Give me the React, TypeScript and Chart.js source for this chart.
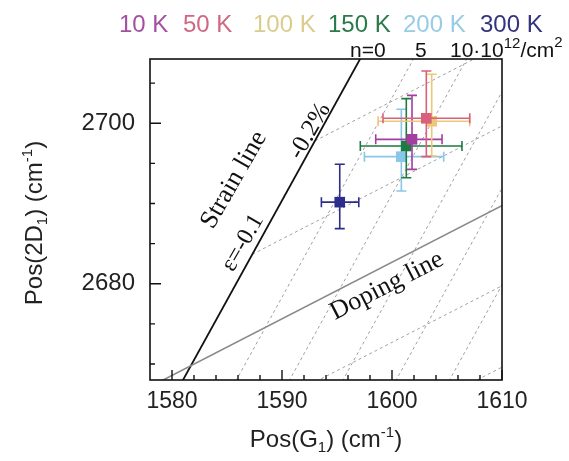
import React, { useEffect, useRef } from 'react';
import { Chart, registerables } from 'chart.js';

Chart.register(...registerables);

// ---------------- data ----------------
const temperatures = ['10 K', '50 K', '100 K', '150 K', '200 K', '300 K'];
const seriesColors = ['#a43d9f', '#d9607a', '#ebc777', '#1d7a40', '#88c6ea', '#2d2d8c'];
const legendColors = ['#a4509f', '#cf6880', '#d9cc8c', '#2a7a4a', '#98cbe6', '#33337f'];
const posG = [1601.82, 1603.12, 1603.61, 1601.3, 1600.85, 1595.25];
const pos2D = [2697.99, 2700.61, 2700.24, 2697.16, 2695.83, 2690.16];
const errGLow = [3.3, 3.94, 4.87, 4.18, 3.36, 1.67];
const errGHigh = [2.73, 3.95, 3.45, 5.06, 3.85, 1.73];
const err2DUp = [5.48, 5.9, 5.86, 5.9, 5.9, 4.72];
const err2DDown = [3.74, 4.78, 4.32, 3.95, 4.27, 3.3];
const layerOrder = [3, 1, 2, 4, 5, 6];

const xTickValues = [1580, 1582, 1584, 1586, 1588, 1590, 1592, 1594, 1596, 1598, 1600, 1602, 1604, 1606, 1608, 1610];
const xLabelValues = [1580, 1590, 1600, 1610];
const yTickValues = [2670, 2675, 2680, 2685, 2690, 2695, 2700, 2705];
const yLabelValues = [2680, 2700];

const strainLine = [{ x: 1577.0, y: 2658.07 }, { x: 1601.0, y: 2717.69 }];
const dopingLine = [{ x: 1576.0, y: 2665.75 }, { x: 1612.0, y: 2691.13 }];
const isoStrainLines = [
  [{ x: 1593.0, y: 2697.8 }, { x: 1612.0, y: 2711.2 }],
  [{ x: 1587.3, y: 2683.66 }, { x: 1612.0, y: 2701.07 }],
  [{ x: 1576.1, y: 2655.84 }, { x: 1612.0, y: 2681.15 }],
  [{ x: 1570.4, y: 2641.68 }, { x: 1612.0, y: 2671.01 }],
];
const isoDopingLines = [
  [{ x: 1582.63, y: 2660 }, { x: 1605.17, y: 2716 }],
  [{ x: 1587.47, y: 2660 }, { x: 1610.01, y: 2716 }],
  [{ x: 1592.32, y: 2660 }, { x: 1614.86, y: 2716 }],
  [{ x: 1597.16, y: 2660 }, { x: 1619.7, y: 2716 }],
  [{ x: 1602.01, y: 2660 }, { x: 1624.55, y: 2716 }],
];

const SANS = '"Liberation Sans", Arial, sans-serif';
const SERIF = '"Liberation Serif", "Times New Roman", serif';

type Part = { t: string; size: number; dy?: number };

function drawRich(ctx: CanvasRenderingContext2D, parts: Part[], x: number, y: number, align: 'left' | 'center', family: string, color: string) {
  let total = 0;
  const widths: number[] = [];
  parts.forEach((p) => {
    ctx.font = `${p.size}px ${family}`;
    const w = ctx.measureText(p.t).width;
    widths.push(w);
    total += w;
  });
  let cx = align === 'center' ? x - total / 2 : x;
  ctx.fillStyle = color;
  ctx.textAlign = 'left';
  ctx.textBaseline = 'alphabetic';
  parts.forEach((p, i) => {
    ctx.font = `${p.size}px ${family}`;
    ctx.fillText(p.t, cx, y + (p.dy || 0));
    cx += widths[i];
  });
}

function drawRotated(ctx: CanvasRenderingContext2D, text: string, x: number, y: number, deg: number, size: number) {
  ctx.save();
  ctx.translate(x, y);
  ctx.rotate((deg * Math.PI) / 180);
  ctx.font = `${size}px ${SERIF}`;
  ctx.fillStyle = '#111';
  ctx.textAlign = 'center';
  ctx.textBaseline = 'middle';
  ctx.fillText(text, 0, 0);
  ctx.restore();
}

const overlayPlugin = {
  id: 'overlay',
  beforeDatasetDraw(chart: any, args: any) {
    const ds = chart.data.datasets[args.index];
    if (ds.seriesIndex === undefined) return;
    const i = ds.seriesIndex;
    const xs = chart.scales.x;
    const ys = chart.scales.y;
    const ctx = chart.ctx as CanvasRenderingContext2D;
    const pt = args.meta.data[0];
    const cx = pt.x;
    const cy = pt.y;
    const xl = xs.getPixelForValue(posG[i] - errGLow[i]);
    const xr = xs.getPixelForValue(posG[i] + errGHigh[i]);
    const yt = ys.getPixelForValue(pos2D[i] + err2DUp[i]);
    const yb = ys.getPixelForValue(pos2D[i] - err2DDown[i]);
    const cap = 5;
    ctx.save();
    ctx.strokeStyle = seriesColors[i];
    ctx.lineWidth = 1.6;
    ctx.beginPath();
    ctx.moveTo(xl, cy); ctx.lineTo(xr, cy);
    ctx.moveTo(xl, cy - cap); ctx.lineTo(xl, cy + cap);
    ctx.moveTo(xr, cy - cap); ctx.lineTo(xr, cy + cap);
    ctx.moveTo(cx, yt); ctx.lineTo(cx, yb);
    ctx.moveTo(cx - cap, yt); ctx.lineTo(cx + cap, yt);
    ctx.moveTo(cx - cap, yb); ctx.lineTo(cx + cap, yb);
    ctx.stroke();
    ctx.restore();
  },
  afterDraw(chart: any) {
    const ctx = chart.ctx as CanvasRenderingContext2D;
    const { left, right, top, bottom } = chart.chartArea;
    const xs = chart.scales.x;
    const ys = chart.scales.y;
    ctx.save();
    // frame
    ctx.strokeStyle = '#111';
    ctx.lineWidth = 1.6;
    ctx.strokeRect(left, top, right - left, bottom - top);
    // inward ticks
    ctx.lineWidth = 1.4;
    ctx.beginPath();
    xs.ticks.forEach((t: any) => {
      const px = xs.getPixelForValue(t.value);
      const len = xLabelValues.includes(t.value) ? 10 : 5;
      ctx.moveTo(px, bottom);
      ctx.lineTo(px, bottom - len);
    });
    ys.ticks.forEach((t: any) => {
      const py = ys.getPixelForValue(t.value);
      const len = yLabelValues.includes(t.value) ? 11 : 5;
      ctx.moveTo(left, py);
      ctx.lineTo(left + len, py);
    });
    ctx.stroke();

    // axis titles
    drawRich(ctx, [
      { t: 'Pos(G', size: 24 },
      { t: '1', size: 15, dy: 5 },
      { t: ') (cm', size: 24 },
      { t: '-1', size: 15, dy: -10 },
      { t: ')', size: 24 },
    ], (left + right) / 2, 447, 'center', SANS, '#222');
    ctx.save();
    ctx.translate(42, 223);
    ctx.rotate(-Math.PI / 2);
    drawRich(ctx, [
      { t: 'Pos(2D', size: 24 },
      { t: '1', size: 15, dy: 5 },
      { t: ') (cm', size: 24 },
      { t: '-1', size: 15, dy: -10 },
      { t: ')', size: 24 },
    ], 0, 0, 'center', SANS, '#222');
    ctx.restore();

    // temperature legend
    const legendX = [119, 183, 253, 328, 403, 480];
    temperatures.forEach((t, i) => {
      drawRich(ctx, [{ t, size: 24 }], legendX[i], 32, 'left', SANS, legendColors[i]);
    });

    // doping labels
    drawRich(ctx, [{ t: 'n=0', size: 21 }], 350, 57, 'left', SANS, '#111');
    drawRich(ctx, [{ t: '5', size: 21 }], 415, 57, 'left', SANS, '#111');
    drawRich(ctx, [
      { t: '10\u00b710', size: 21 },
      { t: '12', size: 15, dy: -9 },
      { t: '/cm', size: 21 },
      { t: '2', size: 15, dy: -10 },
    ], 450, 57, 'left', SANS, '#111');

    // in-plot annotations
    drawRotated(ctx, 'Strain line', 234, 180, -60, 26);
    drawRotated(ctx, '\u03b5=-0.1', 243, 243, -60, 24);
    drawRotated(ctx, '-0.2%', 310, 131, -60, 25);
    drawRotated(ctx, 'Doping line', 387, 286, -27, 26);
    ctx.restore();
  },
};

export default function App() {
  const ref = useRef<HTMLCanvasElement>(null);
  useEffect(() => {
    if (!ref.current) return;
    const dashed = { borderColor: '#a0a0a0', borderWidth: 1, borderDash: [3, 3], pointRadius: 0, showLine: true, order: 30 };
    const datasets: any[] = [];
    isoStrainLines.forEach((d) => datasets.push({ ...dashed, data: d }));
    isoDopingLines.forEach((d) => datasets.push({ ...dashed, data: d }));
    datasets.push({ data: dopingLine, borderColor: '#8a8a8a', borderWidth: 1.6, pointRadius: 0, showLine: true, order: 20 });
    datasets.push({ data: strainLine, borderColor: '#111', borderWidth: 1.8, pointRadius: 0, showLine: true, order: 20 });
    temperatures.forEach((t, i) => {
      datasets.push({
        label: t,
        seriesIndex: i,
        data: [{ x: posG[i], y: pos2D[i] }],
        pointStyle: 'rect',
        pointRadius: 7.5,
        pointBorderWidth: 0,
        backgroundColor: seriesColors[i],
        borderColor: seriesColors[i],
        order: layerOrder[i],
      });
    });
    const chart = new Chart(ref.current, {
      type: 'scatter',
      data: { datasets },
      options: {
        animation: false,
        responsive: false,
        devicePixelRatio: 1,
        events: [],
        layout: { padding: { left: 0, top: 59, right: 67, bottom: 0 } },
        plugins: { legend: { display: false }, tooltip: { enabled: false } },
        scales: {
          x: {
            type: 'linear',
            min: 1578,
            max: 1610,
            afterBuildTicks: (s: any) => { s.ticks = xTickValues.map((v) => ({ value: v })); },
            afterFit: (s: any) => { s.height = 81; },
            ticks: {
              callback: (v: any) => (xLabelValues.includes(v) ? String(v) : ''),
              font: { family: SANS, size: 23 },
              color: '#222',
              padding: 8,
              autoSkip: false,
              maxRotation: 0,
              minRotation: 0,
            },
            grid: { display: false, drawTicks: false },
            border: { display: false },
          },
          y: {
            type: 'linear',
            min: 2668,
            max: 2708,
            afterBuildTicks: (s: any) => { s.ticks = yTickValues.map((v) => ({ value: v })); },
            afterFit: (s: any) => { s.width = 150; },
            ticks: {
              callback: (v: any) => (yLabelValues.includes(v) ? String(v) : ''),
              font: { family: SANS, size: 24 },
              color: '#222',
              padding: 15,
              autoSkip: false,
            },
            grid: { display: false, drawTicks: false },
            border: { display: false },
          },
        },
      },
      plugins: [overlayPlugin],
    } as any);
    return () => chart.destroy();
  }, []);
  return (
    <div style={{ position: 'absolute', left: 0, top: 0, width: 569, height: 461, background: '#fff' }}>
      <canvas ref={ref} width={569} height={461} style={{ display: 'block', width: 569, height: 461 }} />
    </div>
  );
}
